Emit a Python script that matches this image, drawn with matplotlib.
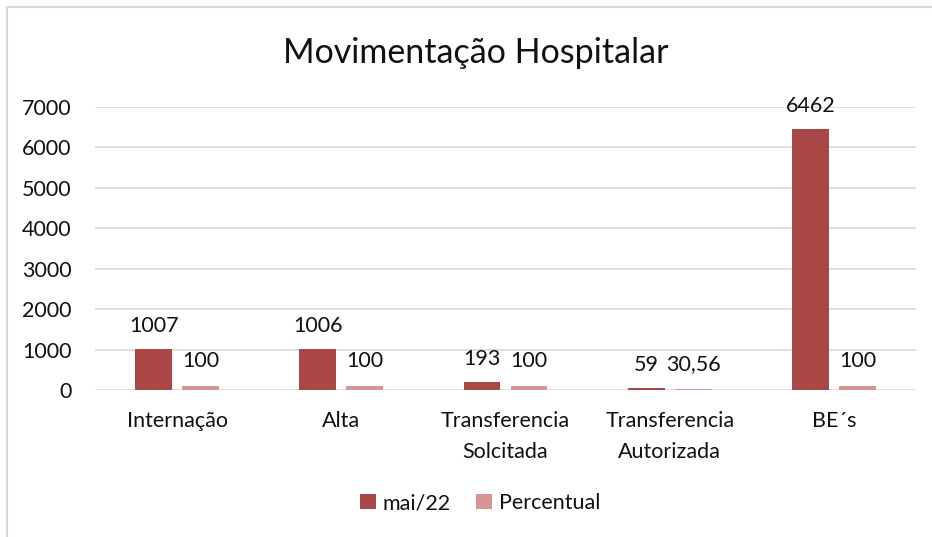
import matplotlib
matplotlib.use("Agg")
import matplotlib.pyplot as plt
from matplotlib.patches import Rectangle
import numpy as np

categories = ["Internação", "Alta", "Transferencia\nSolcitada", "Transferencia\nAutorizada", "BE´s"]
mai22 = [1007, 1006, 193, 59, 6462]
percentual = [100, 100, 100, 30.56, 100]
mai22_labels = ["1007", "1006", "193", "59", "6462"]
perc_labels = ["100", "100", "100", "30,56", "100"]
yticks = [0, 1000, 2000, 3000, 4000, 5000, 6000, 7000]

plt.rcParams['font.family'] = ['Lato', 'DejaVu Sans']

c1 = "#A94646"
c2 = "#D99594"
txt = "#111111"
fs = 15.5

fig = plt.figure(figsize=(9.32, 5.37), dpi=100)
fig.patches.append(Rectangle((7/932, -0.1), 1.2, 1 - 7/537 + 0.1, transform=fig.transFigure,
                             fill=False, edgecolor="#d9d9d9", linewidth=1.5))
ax = fig.add_axes([95/932, 1 - 390/537, 821/932, (390 - 107)/537])

x = np.arange(len(categories))
w = 0.225
off = 0.143
b1 = ax.bar(x - off, mai22, width=w, color=c1, label="mai/22", zorder=3)
b2 = ax.bar(x + off, percentual, width=w, color=c2, label="Percentual", zorder=3)

for xi, v, lab in zip(x, mai22, mai22_labels):
    ax.annotate(lab, (xi - off, v), xytext=(0, 16.5), textcoords="offset points",
                ha="center", va="center", fontsize=fs, color=txt)
for xi, v, lab in zip(x, percentual, perc_labels):
    ax.annotate(lab, (xi + off, v), xytext=(0, 18), textcoords="offset points",
                ha="center", va="center", fontsize=fs, color=txt)

ax.set_xlim(-0.5, len(categories) - 0.5)
ax.set_ylim(0, 7000)
ax.set_yticks(yticks)
ax.set_yticklabels([str(t) for t in yticks], fontsize=fs, color=txt)
ax.set_xticks(x)
ax.set_xticklabels(categories, fontsize=fs, color=txt, linespacing=1.7)
ax.tick_params(axis="both", length=0)
ax.tick_params(axis="y", pad=17)
ax.tick_params(axis="x", pad=15)
ax.grid(axis="y", color="#d9d9d9", linewidth=1.2, zorder=0)
for s in ax.spines.values():
    s.set_visible(False)

fig.text(476/932, 1 - 53/537, "Movimentação Hospitalar", ha="center", va="center",
         fontsize=24.5, color=txt)

leg = fig.legend(handles=[b1, b2], loc="center", bbox_to_anchor=(480/932, 1 - 503/537),
                 ncol=2, frameon=False, fontsize=fs, handlelength=0.75, handleheight=0.75,
                 handletextpad=0.3, columnspacing=1.2)
for t in leg.get_texts():
    t.set_color(txt)

fig.savefig("out.png", dpi=100)
